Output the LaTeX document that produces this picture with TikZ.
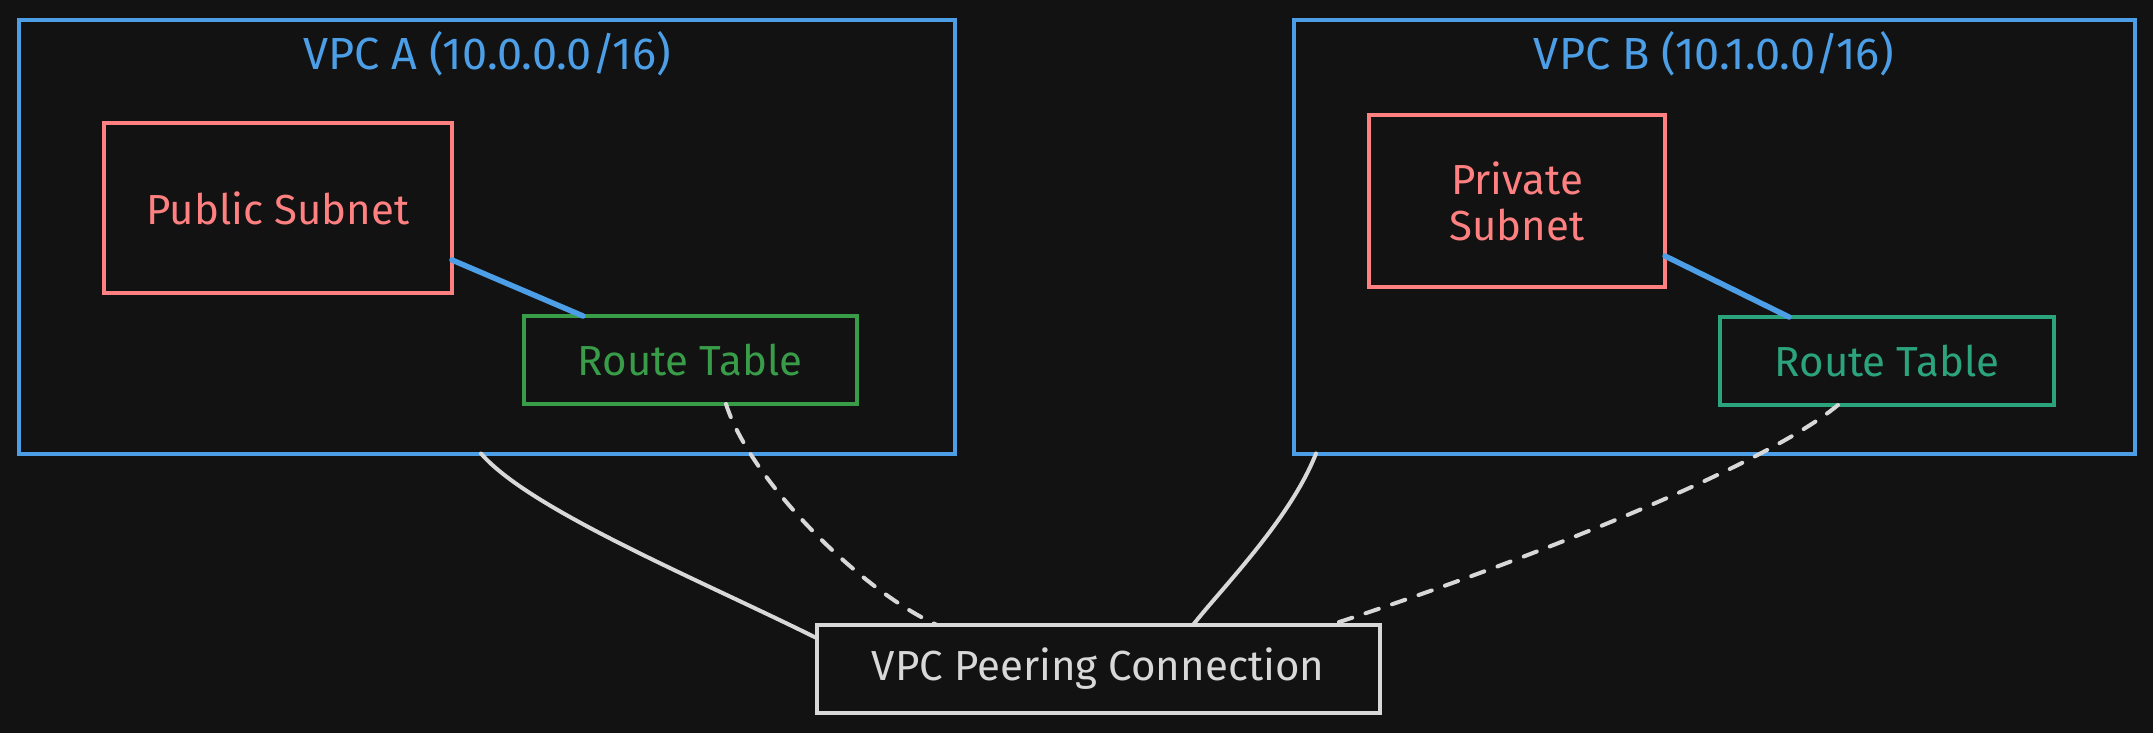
\documentclass[tikz,border=0pt]{standalone}
\usepackage{fontspec}
\setmainfont{Fira Sans}
\usetikzlibrary{calc}
\definecolor{bg}{HTML}{121212}
\definecolor{vpcblue}{HTML}{4C9EE6}
\definecolor{subred}{HTML}{FF8080}
\definecolor{rtgreen}{HTML}{389C48}
\definecolor{rtteal}{HTML}{2BA37C}
\definecolor{linegray}{HTML}{D8D8D8}
\begin{document}
\begin{tikzpicture}[x=1pt,y=-1pt,
  box/.style={draw=#1, line width=4pt, rectangle, inner sep=0pt, outer sep=0pt},
  lbl/.style={font=\fontsize{42}{46}\selectfont, align=center},
  ttl/.style={font=\fontsize{45}{50}\selectfont, align=center},
  conn/.style={draw=linegray, line width=4pt, line cap=round},
  dconn/.style={draw=linegray, line width=4pt, line cap=round, dash pattern=on 14pt off 14pt},
  bconn/.style={draw=vpcblue, line width=5.5pt, line cap=round}]
\fill[bg] (0,0) rectangle (2153,733);
\useasboundingbox (0,0) rectangle (2153,733);

% VPC A
\node[box=vpcblue, minimum width=936pt, minimum height=433pt] (vpcA) at (487,237) {};
\node[ttl, text=vpcblue] (titleA) at (487,54) {VPC A (10.0.0.0/16)};
\node[box=subred, minimum width=348pt, minimum height=170pt, lbl, text=subred] (pubsub) at (278,208) {Public Subnet};
\node[box=rtgreen, minimum width=333pt, minimum height=88pt, lbl, text=rtgreen] (rtA) at (690,360) {Route Table};

% VPC B
\node[box=vpcblue, minimum width=841pt, minimum height=433pt] (vpcB) at (1714,237) {};
\node[ttl, text=vpcblue] (titleB) at (1714,54) {VPC B (10.1.0.0/16)};
\node[box=subred, minimum width=296pt, minimum height=171pt, lbl, text=subred] (privsub) at (1517,201) {Private\\Subnet};
\node[box=rtteal, minimum width=334pt, minimum height=88pt, lbl, text=rtteal] (rtB) at (1887,361) {Route Table};

% Peering
\node[box=linegray, minimum width=563pt, minimum height=88pt, lbl, text=linegray] (peer) at (1098,669) {VPC Peering Connection};

% subnet to route table
\draw[bconn] ([yshift=-52pt]pubsub.east) -- ([xshift=-107pt]rtA.north);
\draw[bconn] ([yshift=-55pt]privsub.east) -- ([xshift=-98pt]rtB.north);

% VPC to peering (solid)
\draw[conn] ([xshift=-6pt]vpcA.south) .. controls (530,510) and (700,580) .. ([yshift=31pt]peer.west);
\draw[conn] ([xshift=-398pt]vpcB.south) .. controls (1290,520) and (1220,590) .. ([xshift=95pt]peer.north);

% Route tables to peering (dashed)
\draw[dconn] ([xshift=36pt]rtA.south) .. controls (750,480) and (860,590) .. ([xshift=-161pt]peer.north);
\draw[dconn] ([xshift=-49pt]rtB.south) .. controls (1760,470) and (1500,570) .. ([xshift=232pt]peer.north);
\end{tikzpicture}
\end{document}
